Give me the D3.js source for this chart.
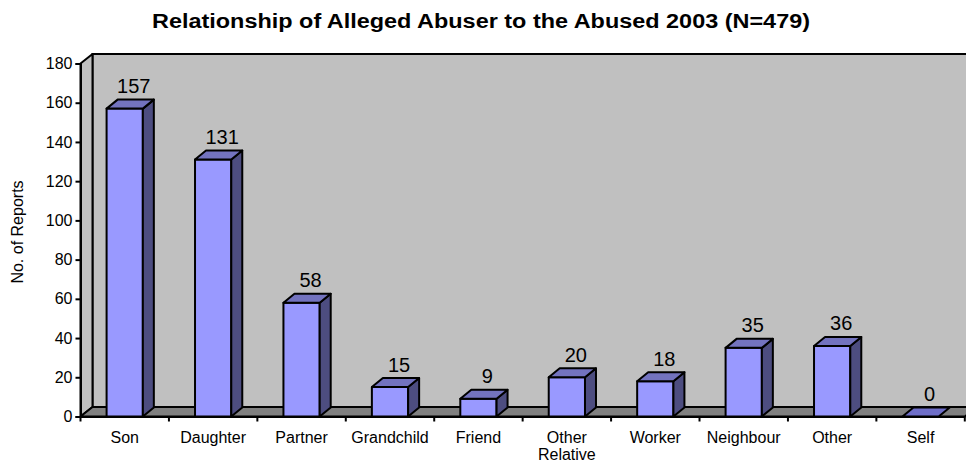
<!DOCTYPE html>
<html>
<head>
<meta charset="utf-8">
<script src="https://cdn.jsdelivr.net/npm/d3@7"></script>
<style>
  html, body { margin: 0; padding: 0; background: #fff; }
  svg { display: block; }
  text { font-family: Arial, "Liberation Sans", sans-serif; fill: #000; }
</style>
</head>
<body>
<svg id="chart" width="966" height="463"></svg>
<script>
// Relationship of alleged abuser to the abused, 2003
const categories = ["Son", "Daughter", "Partner", "Grandchild", "Friend", "Other\nRelative", "Worker", "Neighbour", "Other", "Self"];
const reports = [157, 131, 58, 15, 9, 20, 18, 35, 36, 0];
const yTicks = [0, 20, 40, 60, 80, 100, 120, 140, 160, 180];
const titleText = "Relationship of Alleged Abuser to the Abused 2003 (N=479)";
const yAxisTitle = "No. of Reports";

(function drawChart() {
  const svg = d3.select("#chart");

  // plot frame (front plane) and 3-D depth offset
  const plotLeft = 80.5, plotRight = 964.8, plotBottom = 416.5, plotTop = 63.5;
  const depth = { dx: 12, dy: -9.5 };
  const barDepth = { dx: 11, dy: -9 };

  const x = d3.scaleBand().domain(categories).range([plotLeft, plotRight]).paddingInner(0).paddingOuter(0);
  const y = d3.scaleLinear().domain([0, 180]).range([plotBottom, plotTop]);
  const barW = x.bandwidth() * 0.41;

  const stroke = "#000", sw = 2;
  const labelFont = "16px";

  // back wall
  svg.append("polygon")
    .attr("points", [[plotLeft + depth.dx, plotTop + depth.dy], [plotRight + depth.dx, plotTop + depth.dy],
                     [plotRight + depth.dx, plotBottom + depth.dy], [plotLeft + depth.dx, plotBottom + depth.dy]].join(" "))
    .attr("fill", "#C0C0C0").attr("stroke", stroke).attr("stroke-width", sw);

  // side wall
  svg.append("polygon")
    .attr("points", [[plotLeft, plotBottom], [plotLeft, plotTop], [plotLeft + depth.dx, plotTop + depth.dy], [plotLeft + depth.dx, plotBottom + depth.dy]].join(" "))
    .attr("fill", "#C0C0C0").attr("stroke", stroke).attr("stroke-width", sw).attr("stroke-linejoin", "round");

  // floor
  svg.append("polygon")
    .attr("points", [[plotLeft, plotBottom], [plotRight, plotBottom], [plotRight + depth.dx, plotBottom + depth.dy], [plotLeft + depth.dx, plotBottom + depth.dy]].join(" "))
    .attr("fill", "#808080").attr("stroke", stroke).attr("stroke-width", sw).attr("stroke-linejoin", "round");

  // bars
  const bars = svg.append("g").selectAll("g").data(categories).join("g");
  bars.each(function (c, i) {
    const g = d3.select(this);
    const v = reports[i];
    const cx = x(c) + x.bandwidth() / 2;
    const x0 = cx - barW / 2, x1 = cx + barW / 2;
    const yt = y(v), yb = y(0);
    const dx = barDepth.dx, dy = barDepth.dy;
    if (v > 0) {
      g.append("polygon")
        .attr("points", [[x0, yb], [x1, yb], [x1, yt], [x0, yt]].join(" "))
        .attr("fill", "#9999FF").attr("stroke", stroke).attr("stroke-width", sw).attr("stroke-linejoin", "round");
      g.append("polygon")
        .attr("points", [[x1, yb], [x1 + dx, yb + dy], [x1 + dx, yt + dy], [x1, yt]].join(" "))
        .attr("fill", "#4D4D80").attr("stroke", stroke).attr("stroke-width", sw).attr("stroke-linejoin", "round");
    }
    g.append("polygon")
      .attr("points", [[x0, yt], [x1, yt], [x1 + dx, yt + dy], [x0 + dx, yt + dy]].join(" "))
      .attr("fill", v > 0 ? "#7373BF" : "#6E6EC8").attr("stroke", stroke).attr("stroke-width", sw).attr("stroke-linejoin", "round");
    g.append("text")
      .attr("x", cx + 9).attr("y", yt + dy - 6.5)
      .attr("text-anchor", "middle").attr("font-size", "20px")
      .text(v);
  });

  // y axis
  const yAxis = d3.axisLeft(y).tickValues(yTicks).tickSize(5).tickPadding(3);
  const gy = svg.append("g").attr("transform", `translate(${plotLeft},0)`).call(yAxis);
  gy.select(".domain").attr("stroke", stroke).attr("stroke-width", sw);
  gy.selectAll(".tick line").attr("stroke", stroke).attr("stroke-width", sw);
  gy.selectAll(".tick text").attr("font-size", labelFont).attr("font-family", "Arial, 'Liberation Sans', sans-serif").attr("fill", "#000");

  // x axis
  const xAxis = d3.axisBottom(x).tickSize(0).tickFormat("");
  const gx = svg.append("g").attr("transform", `translate(0,${plotBottom})`).call(xAxis);
  gx.select(".domain").attr("stroke", stroke).attr("stroke-width", sw);
  gx.selectAll(".tick").remove();
  // category boundary ticks
  gx.selectAll("line.sep").data(categories.concat(["_end"])).join("line")
    .attr("class", "sep")
    .attr("x1", (d, i) => plotLeft + i * x.bandwidth()).attr("x2", (d, i) => plotLeft + i * x.bandwidth())
    .attr("y1", 0).attr("y2", 5)
    .attr("stroke", stroke).attr("stroke-width", sw);

  // category labels
  const labels = svg.append("g").selectAll("text").data(categories).join("text")
    .attr("x", d => x(d) + x.bandwidth() / 2)
    .attr("y", 443)
    .attr("text-anchor", "middle").attr("font-size", labelFont);
  labels.each(function (d) {
    const t = d3.select(this);
    d.split("\n").forEach((line, k) => {
      t.append("tspan").attr("x", t.attr("x")).attr("dy", k === 0 ? 0 : 17).text(line);
    });
  });

  // axis title
  svg.append("text")
    .attr("transform", `translate(23,232) rotate(-90)`)
    .attr("text-anchor", "middle").attr("font-size", labelFont)
    .text(yAxisTitle);

  // chart title (slightly widened lettering)
  svg.append("text")
    .attr("x", 481).attr("y", 28)
    .attr("text-anchor", "middle").attr("font-size", "20px").attr("font-weight", "bold")
    .attr("textLength", 658).attr("lengthAdjust", "spacingAndGlyphs")
    .text(titleText);
})();
</script>
</body>
</html>
